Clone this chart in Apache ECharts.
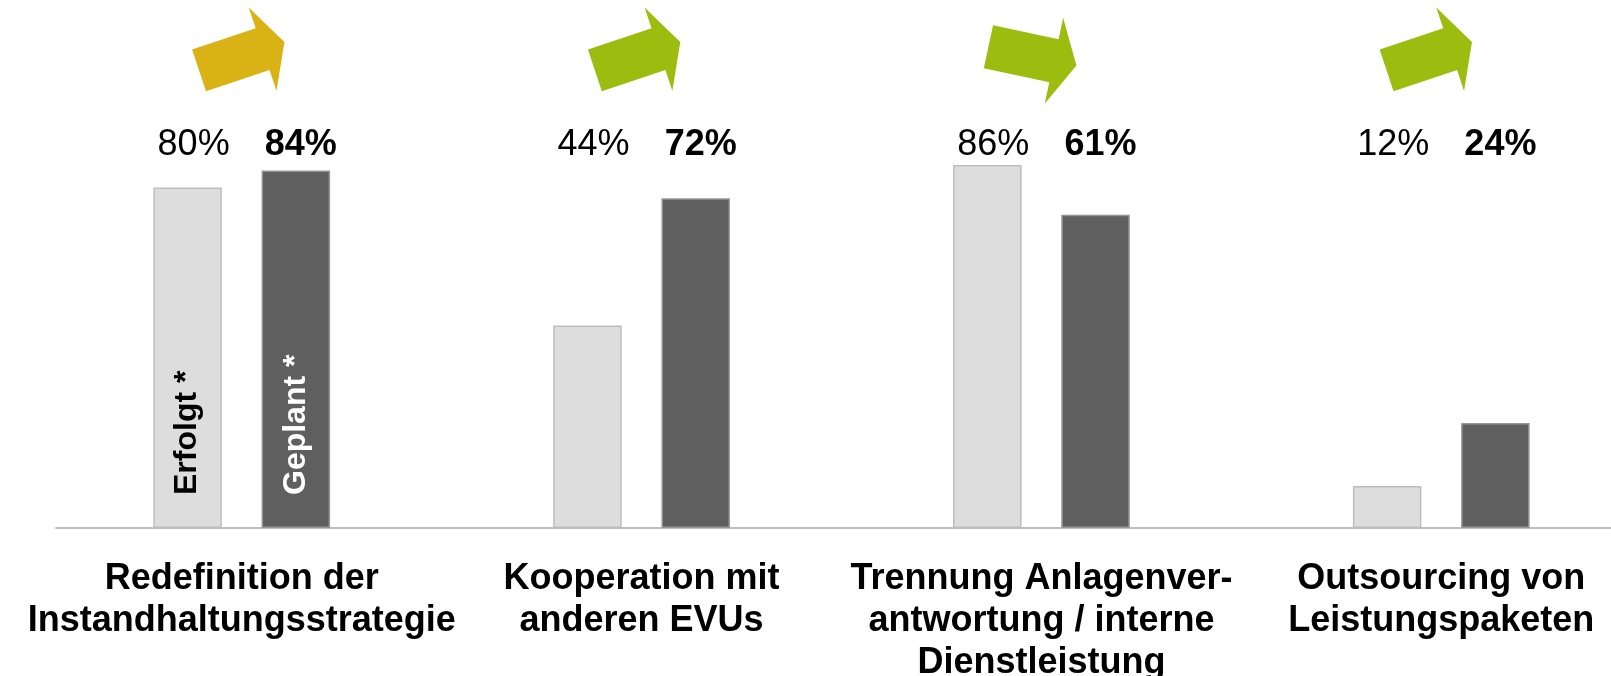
<!DOCTYPE html>
<html style="height: 100%; width: 100%;">
<head>
    <meta charset="utf-8">
    <title>Instandhaltung – Erfolgt / Geplant</title>
    <script src="https://cdn.jsdelivr.net/npm/echarts@6/dist/echarts.min.js"></script>
    <style>
        body, html {
            margin: 0;
            padding: 0;
            width: 100%;
            height: 100%;
            overflow: hidden;
            background: #fff;
        }
        #main {
            width: 1611px;
            height: 676px;
        }
    </style>
</head>
<body>
<div id="main"></div>
<script type="text/javascript">
    // categories (line breaks as in the original slide)
    var categories = [
        'Redefinition der\nInstandhaltungsstrategie',
        'Kooperation mit\nanderen EVUs',
        'Trennung Anlagenver-\nantwortung / interne\nDienstleistung',
        'Outsourcing von\nLeistungspaketen'
    ];

    // bar heights as drawn
    var erfolgtBars = [80, 47.6, 85.3, 9.9];
    var geplantBars = [84, 77.5, 73.6, 24.7];

    // percentages printed above the bars
    var erfolgtLabels = [80, 44, 86, 12];
    var geplantLabels = [84, 72, 61, 24];

    // arrow colours per category
    var arrowColors = ['#D9B215', '#9CBD0F', '#9CBD0F', '#9CBD0F'];

    var FONT = "'Liberation Sans', Arial, sans-serif";
    var LABEL_LEVEL = 89.9;   // y value of the percentage row
    var ARROW_LEVEL = 110.9;  // y value of the arrow row
    var arrowShift = [0, -4, -9, -12];
    var arrowPath = 'path://M0,-22L67,-22L67,-44L90,0L67,44L67,22L0,22Z';

    var chart = echarts.init(document.getElementById('main'));

    var option = {
        animation: false,
        grid: [
            { left: 41.8, right: -30.2, top: 17.4, bottom: 148, outerBoundsMode: 'none' },
            { left: 56, right: 0, top: 527, height: 1, outerBoundsMode: 'none' }  // base line only
        ],
        xAxis: [
            {
                type: 'category',
                gridIndex: 0,
                data: categories,
                axisLine: { show: false },
                axisTick: { show: false },
                axisLabel: {
                    interval: 0,
                    margin: 30,
                    color: '#000',
                    fontFamily: FONT,
                    fontWeight: 'bold',
                    fontSize: 36,
                    lineHeight: 42
                }
            },
            {
                type: 'category',
                gridIndex: 0,
                data: categories,
                show: false
            },
            {
                type: 'value',
                gridIndex: 1,
                min: 0,
                max: 1,
                axisLine: { show: true, lineStyle: { color: '#BFBFBF', width: 2 } },
                axisTick: { show: false },
                axisLabel: { show: false },
                splitLine: { show: false }
            }
        ],
        yAxis: [
            { type: 'value', gridIndex: 0, min: 0, max: 120, show: false, splitLine: { show: false } },
            { type: 'value', gridIndex: 1, show: false, splitLine: { show: false } }
        ],
        series: [
            {
                name: 'Erfolgt',
                type: 'bar',
                xAxisIndex: 0,
                barWidth: 68.5,
                barGap: '58%',
                itemStyle: { color: '#DDDDDD', borderColor: '#BDBDBD', borderWidth: 1.5 },
                data: erfolgtBars.map(function (v, i) {
                    return i === 0 ? {
                        value: v,
                        label: {
                            show: true, formatter: 'Erfolgt *', position: 'insideBottom', distance: 33,
                            rotate: 90, align: 'left', verticalAlign: 'middle',
                            color: '#000', fontFamily: FONT, fontWeight: 'bold', fontSize: 32
                        }
                    } : v;
                })
            },
            {
                name: 'Geplant',
                type: 'bar',
                xAxisIndex: 0,
                barWidth: 68.5,
                barGap: '58%',
                itemStyle: { color: '#5F5F5F', borderColor: '#959595', borderWidth: 1.5 },
                data: geplantBars.map(function (v, i) {
                    return i === 0 ? {
                        value: v,
                        label: {
                            show: true, formatter: 'Geplant *', position: 'insideBottom', distance: 33,
                            rotate: 90, align: 'left', verticalAlign: 'middle',
                            color: '#fff', fontFamily: FONT, fontWeight: 'bold', fontSize: 32
                        }
                    } : v;
                })
            },
            // invisible bars carrying the percentage row
            {
                type: 'bar',
                xAxisIndex: 1,
                silent: true,
                barWidth: 68.5,
                barGap: '58%',
                itemStyle: { color: 'rgba(0,0,0,0)' },
                label: {
                    show: true, position: 'insideTop', distance: 0, verticalAlign: 'middle', offset: [6, 0],
                    color: '#000', fontFamily: FONT, fontSize: 36,
                    formatter: function (p) { return erfolgtLabels[p.dataIndex] + '%'; }
                },
                data: erfolgtLabels.map(function () { return LABEL_LEVEL; })
            },
            {
                type: 'bar',
                xAxisIndex: 1,
                silent: true,
                barWidth: 68.5,
                barGap: '58%',
                itemStyle: { color: 'rgba(0,0,0,0)' },
                label: {
                    show: true, position: 'insideTop', distance: 0, verticalAlign: 'middle', offset: [5, 0],
                    color: '#000', fontFamily: FONT, fontSize: 36, fontWeight: 'bold',
                    formatter: function (p) { return geplantLabels[p.dataIndex] + '%'; }
                },
                data: geplantLabels.map(function () { return LABEL_LEVEL; })
            },
            // trend arrows
            {
                type: 'scatter',
                xAxisIndex: 0,
                clip: false,
                silent: true,
                symbol: arrowPath,
                symbolSize: [90, 88],
                itemStyle: { opacity: 1 },
                data: categories.map(function (c, i) {
                    var up = geplantLabels[i] >= erfolgtLabels[i];
                    return {
                        value: [i, ARROW_LEVEL],
                        symbolRotate: up ? 18.4 : -12.1,
                        symbolOffset: [arrowShift[i], 0],
                        itemStyle: { color: arrowColors[i], opacity: 1 }
                    };
                })
            }
        ]
    };

    chart.setOption(option);
</script>
</body>
</html>
